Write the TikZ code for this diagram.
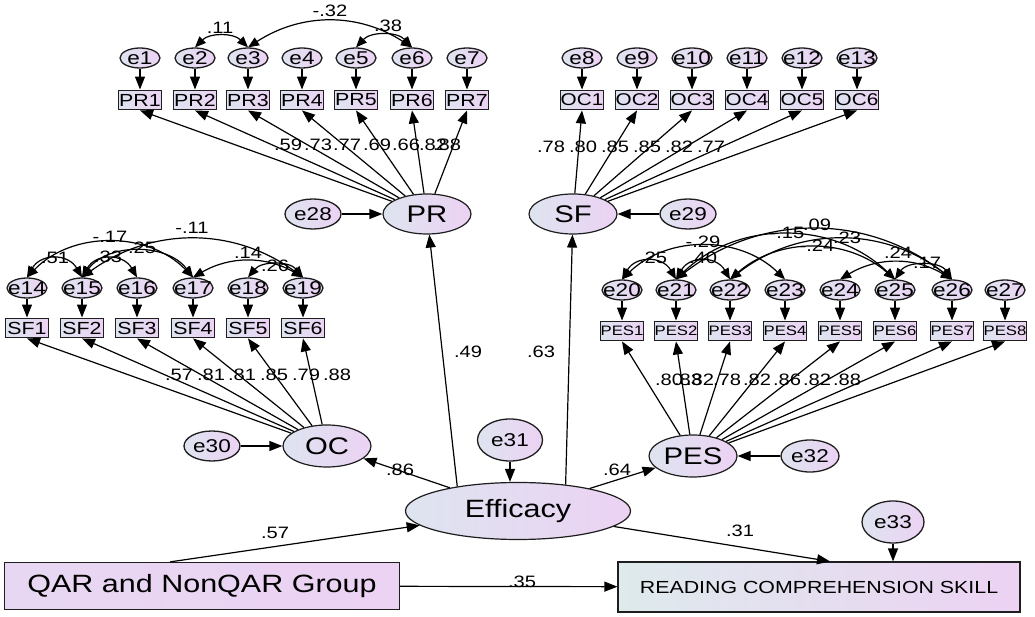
\documentclass[tikz,border=0pt]{standalone}
\usepackage{fontspec}
\setmainfont{Liberation Sans}[FakeStretch=1.22]
\usetikzlibrary{arrows.meta,shapes.geometric,calc}
\definecolor{fl}{RGB}{222,228,240}
\definecolor{fr}{RGB}{236,210,243}
\definecolor{gl}{RGB}{222,234,236}
\definecolor{bd}{RGB}{30,30,30}
\newcommand{\fsz}[1]{\fontsize{#1}{#1}\selectfont}
\newcommand{\zbx}[1]{\makebox[0pt]{#1}}
\tikzset{
 err/.style={ellipse, draw=bd, line width=1.3pt, left color=fl, right color=fr, inner sep=0pt, minimum width=40pt, minimum height=20pt, font=\fsz{18.5}},
 ind/.style={rectangle, draw=bd, line width=1.9pt, left color=fl, right color=fr, inner sep=0pt, minimum width=43pt, minimum height=19pt, font=\fsz{17.5}},
 lat/.style={ellipse, draw=bd, line width=1.2pt, left color=fl, right color=fr, inner sep=0pt, minimum width=88pt, minimum height=40pt, font=\fsz{24}},
 obs/.style={rectangle, draw=bd, line width=1.2pt, inner sep=0pt},
 arr/.style={-{Triangle[length=13pt,width=10pt]}, line width=1.2pt},
 corr/.style={{Triangle[length=11pt,width=9pt]}-{Triangle[length=11pt,width=9pt]}, line width=1.2pt},
 lab/.style={inner sep=0pt, font=\fsz{16.5}},
}
\begin{document}
\begin{tikzpicture}[x=1pt,y=1pt]
\fill[white] (0,0) rectangle (1035,616);
\useasboundingbox (0,0) rectangle (1035,616);

% latent variables
\node[lat] (lPR) at (427,402) {PR};
\node[lat] (lSF) at (573,402) {SF};
\node[lat, minimum height=42pt] (lOC) at (327,170) {OC};
\node[lat, minimum height=42pt] (lPES) at (693,160) {PES};
\node[lat, minimum width=225pt, minimum height=57pt, font=\fsz{25}] (Eff) at (518,105) {Efficacy};

% disturbance terms
\node[err, minimum width=56pt, minimum height=30pt] (e28) at (313,402) {\zbx{e28}};
\node[err, minimum width=56pt, minimum height=30pt] (e29) at (688,402) {\zbx{e29}};
\node[err, minimum width=56pt, minimum height=30pt] (e30) at (212,170) {\zbx{e30}};
\node[err, minimum width=65pt, minimum height=42pt] (e31) at (510,176) {\zbx{e31}};
\node[err, minimum width=58pt, minimum height=32pt] (e32) at (810,160) {\zbx{e32}};
\node[err, minimum width=62pt, minimum height=42pt] (e33) at (893,94) {\zbx{e33}};

% observed boxes
\node[obs, left color=fr!70!fl, right color=fr, minimum width=395pt, minimum height=47pt, font=\fsz{25}] (QAR) at (202,30) {QAR and NonQAR Group};
\node[obs, left color=gl, right color=fr, minimum width=402pt, minimum height=50pt, font=\fsz{17.5}] (Read) at (819,29) {READING COMPREHENSION SKILL};

% PR indicators
\foreach \n/\x in {1/140,2/195,3/248,4/302,5/356,6/412,7/467}{
  \node[err] (e\n) at (\x,558) {\zbx{e\n}};
  \node[ind] (PR\n) at (\x,516) {\zbx{PR\n}};
  \draw[arr] (e\n) -- (PR\n);
  \draw[arr] (lPR) -- (PR\n.south);
}
% SF (top right) indicators
\foreach \n/\m/\x in {1/8/582,2/9/637,3/10/692,4/11/747,5/12/802,6/13/857}{
  \node[err] (e\m) at (\x,558) {\zbx{e\m}};
  \node[ind, font=\fsz{17}] (OC\n) at (\x,516) {\zbx{OC\n}};
  \draw[arr] (e\m) -- (OC\n);
  \draw[arr] (lSF) -- (OC\n.south);
}
% OC indicators
\foreach \n/\m/\x in {1/14/27,2/15/82,3/16/137,4/17/193,5/18/248,6/19/303}{
  \node[err] (e\m) at (\x,328) {\zbx{e\m}};
  \node[ind] (SF\n) at (\x,288) {\zbx{SF\n}};
  \draw[arr] (e\m) -- (SF\n);
  \draw[arr] (lOC) -- (SF\n.south);
}
% PES indicators
\foreach \n/\m/\x in {1/20/622,2/21/676,3/22/730,4/23/785,5/24/840,6/25/895,7/26/952,8/27/1005}{
  \node[err] (e\m) at (\x,326) {\zbx{e\m}};
  \node[ind, font=\fsz{13.7}] (PES\n) at (\x,285) {\zbx{PES\n}};
  \draw[arr] (e\m) -- (PES\n);
  \draw[arr] (lPES) -- (PES\n.south);
}

% disturbances to latents
\draw[arr] (e28) -- (lPR);
\draw[arr] (e29) -- (lSF);
\draw[arr] (e30) -- (lOC);
\draw[arr] (e32) -- (lPES);
\draw[arr] (e31.south) -- (e31.south |- Eff.north);
\draw[arr] (e33.south) -- (e33.south |- Read.north);

% structural paths
\draw[arr] (Eff.158) -- (lPR);
\draw[arr] (Eff.29) -- (lSF);
\draw[arr] (Eff) -- (lOC);
\draw[arr] (Eff) -- (lPES);
\draw[arr] ([xshift=-32pt]QAR.north) -- (Eff);
\draw[arr] (Eff) -- ([xshift=11pt]Read.north);
\draw[arr] (QAR) -- (Read);

% correlations PR row
\draw[corr] (e2.north) to[bend left=45] (e3.north);
\draw[corr] (e3.north) to[bend left=33] (e6.north);
\draw[corr] (e5.north) to[bend left=47] (e6.north);
% correlations SF row
\draw[corr] (e14.north) to[bend left=60, looseness=1.3] (e15.north);
\draw[corr] (e15.north) to[bend left=60, looseness=1.3] (e16.north);
\draw[corr] (e14.north) to[bend left=46] (e17.north);
\draw[corr] (e15.north) to[bend left=53] (e17.north);
\draw[corr] (e15.north) to[bend left=36] (e19.north);
\draw[corr] (e17.north) to[bend left=30] (e19.north);
\draw[corr] (e18.north) to[bend left=50] (e19.north);
% correlations PES row
\draw[corr] (e20.north) to[bend left=60, looseness=1.3] (e21.north);
\draw[corr] (e21.north) to[bend left=60, looseness=1.3] (e22.north);
\draw[corr] (e20.north) to[bend left=44] (e23.north);
\draw[corr] (e21.north) to[bend left=44] (e25.north);
\draw[corr] (e21.north) to[bend left=38] (e26.north);
\draw[corr] (e22.north) to[bend left=41] (e25.north);
\draw[corr] (e22.north) to[bend left=38] (e26.north);
\draw[corr] (e24.north) to[bend left=31] (e26.north);
\draw[corr] (e25.north) to[bend left=56] (e26.north);

% correlation labels
\node[lab] (c1) at (220,588) {.11};
\node[lab] (c2) at (330,605) {-.32};
\node[lab] (c3) at (388,590) {.38};
\node[lab] (c4) at (55,358) {.51};
\node[lab] (c5) at (108,359) {.33};
\node[lab] (c6) at (110,379) {-.17};
\node[lab] (c7) at (142,368) {.25};
\node[lab] (c8) at (192,388) {-.11};
\node[lab] (c9) at (248,363) {.14};
\node[lab] (c10) at (275,350) {.26};
\node[lab] (c11) at (653,358) {.25};
\node[lab] (c12) at (703,358) {.40};
\node[lab] (c13) at (703,374) {-.29};
\node[lab] (c14) at (787,383) {-.15};
\node[lab] (c15) at (817,391) {.09};
\node[lab] (c16) at (847,378) {.23};
\node[lab] (c17) at (817,370) {-.24};
\node[lab] (c18) at (898,363) {.24};
\node[lab] (c19) at (927,353) {.17};

% loading labels
\foreach \v/\x [count=\i] in {.59/288,.73/318,.77/347,.69/377,.66/406,.82/433,.88/447}
  \node[lab] (lp\i) at (\x,471) {\v};
\foreach \v/\x [count=\i] in {.78/551,.80/583,.85/615,.85/647,.82/679,.77/711}
  \node[lab] (ls\i) at (\x,469) {\v};
\foreach \v/\x [count=\i] in {.57/179,.81/211,.81/242,.85/274,.79/306,.88/337}
  \node[lab] (lo\i) at (\x,241) {\v};
\foreach \v/\x [count=\i] in {.80/669,.83/688,.82/700,.78/727,.82/757,.86/787,.82/817,.88/847}
  \node[lab] (le\i) at (\x,236) {\v};

% structural labels
\node[lab] (s1) at (468,264) {.49};
\node[lab] (s2) at (541,264) {.63};
\node[lab] (s3) at (400,146) {.86};
\node[lab] (s4) at (617,146) {.64};
\node[lab] (s5) at (275,83) {.57};
\node[lab] (s6) at (740,85) {.31};
\node[lab] (s7) at (522,34) {.35};
\end{tikzpicture}
\end{document}
